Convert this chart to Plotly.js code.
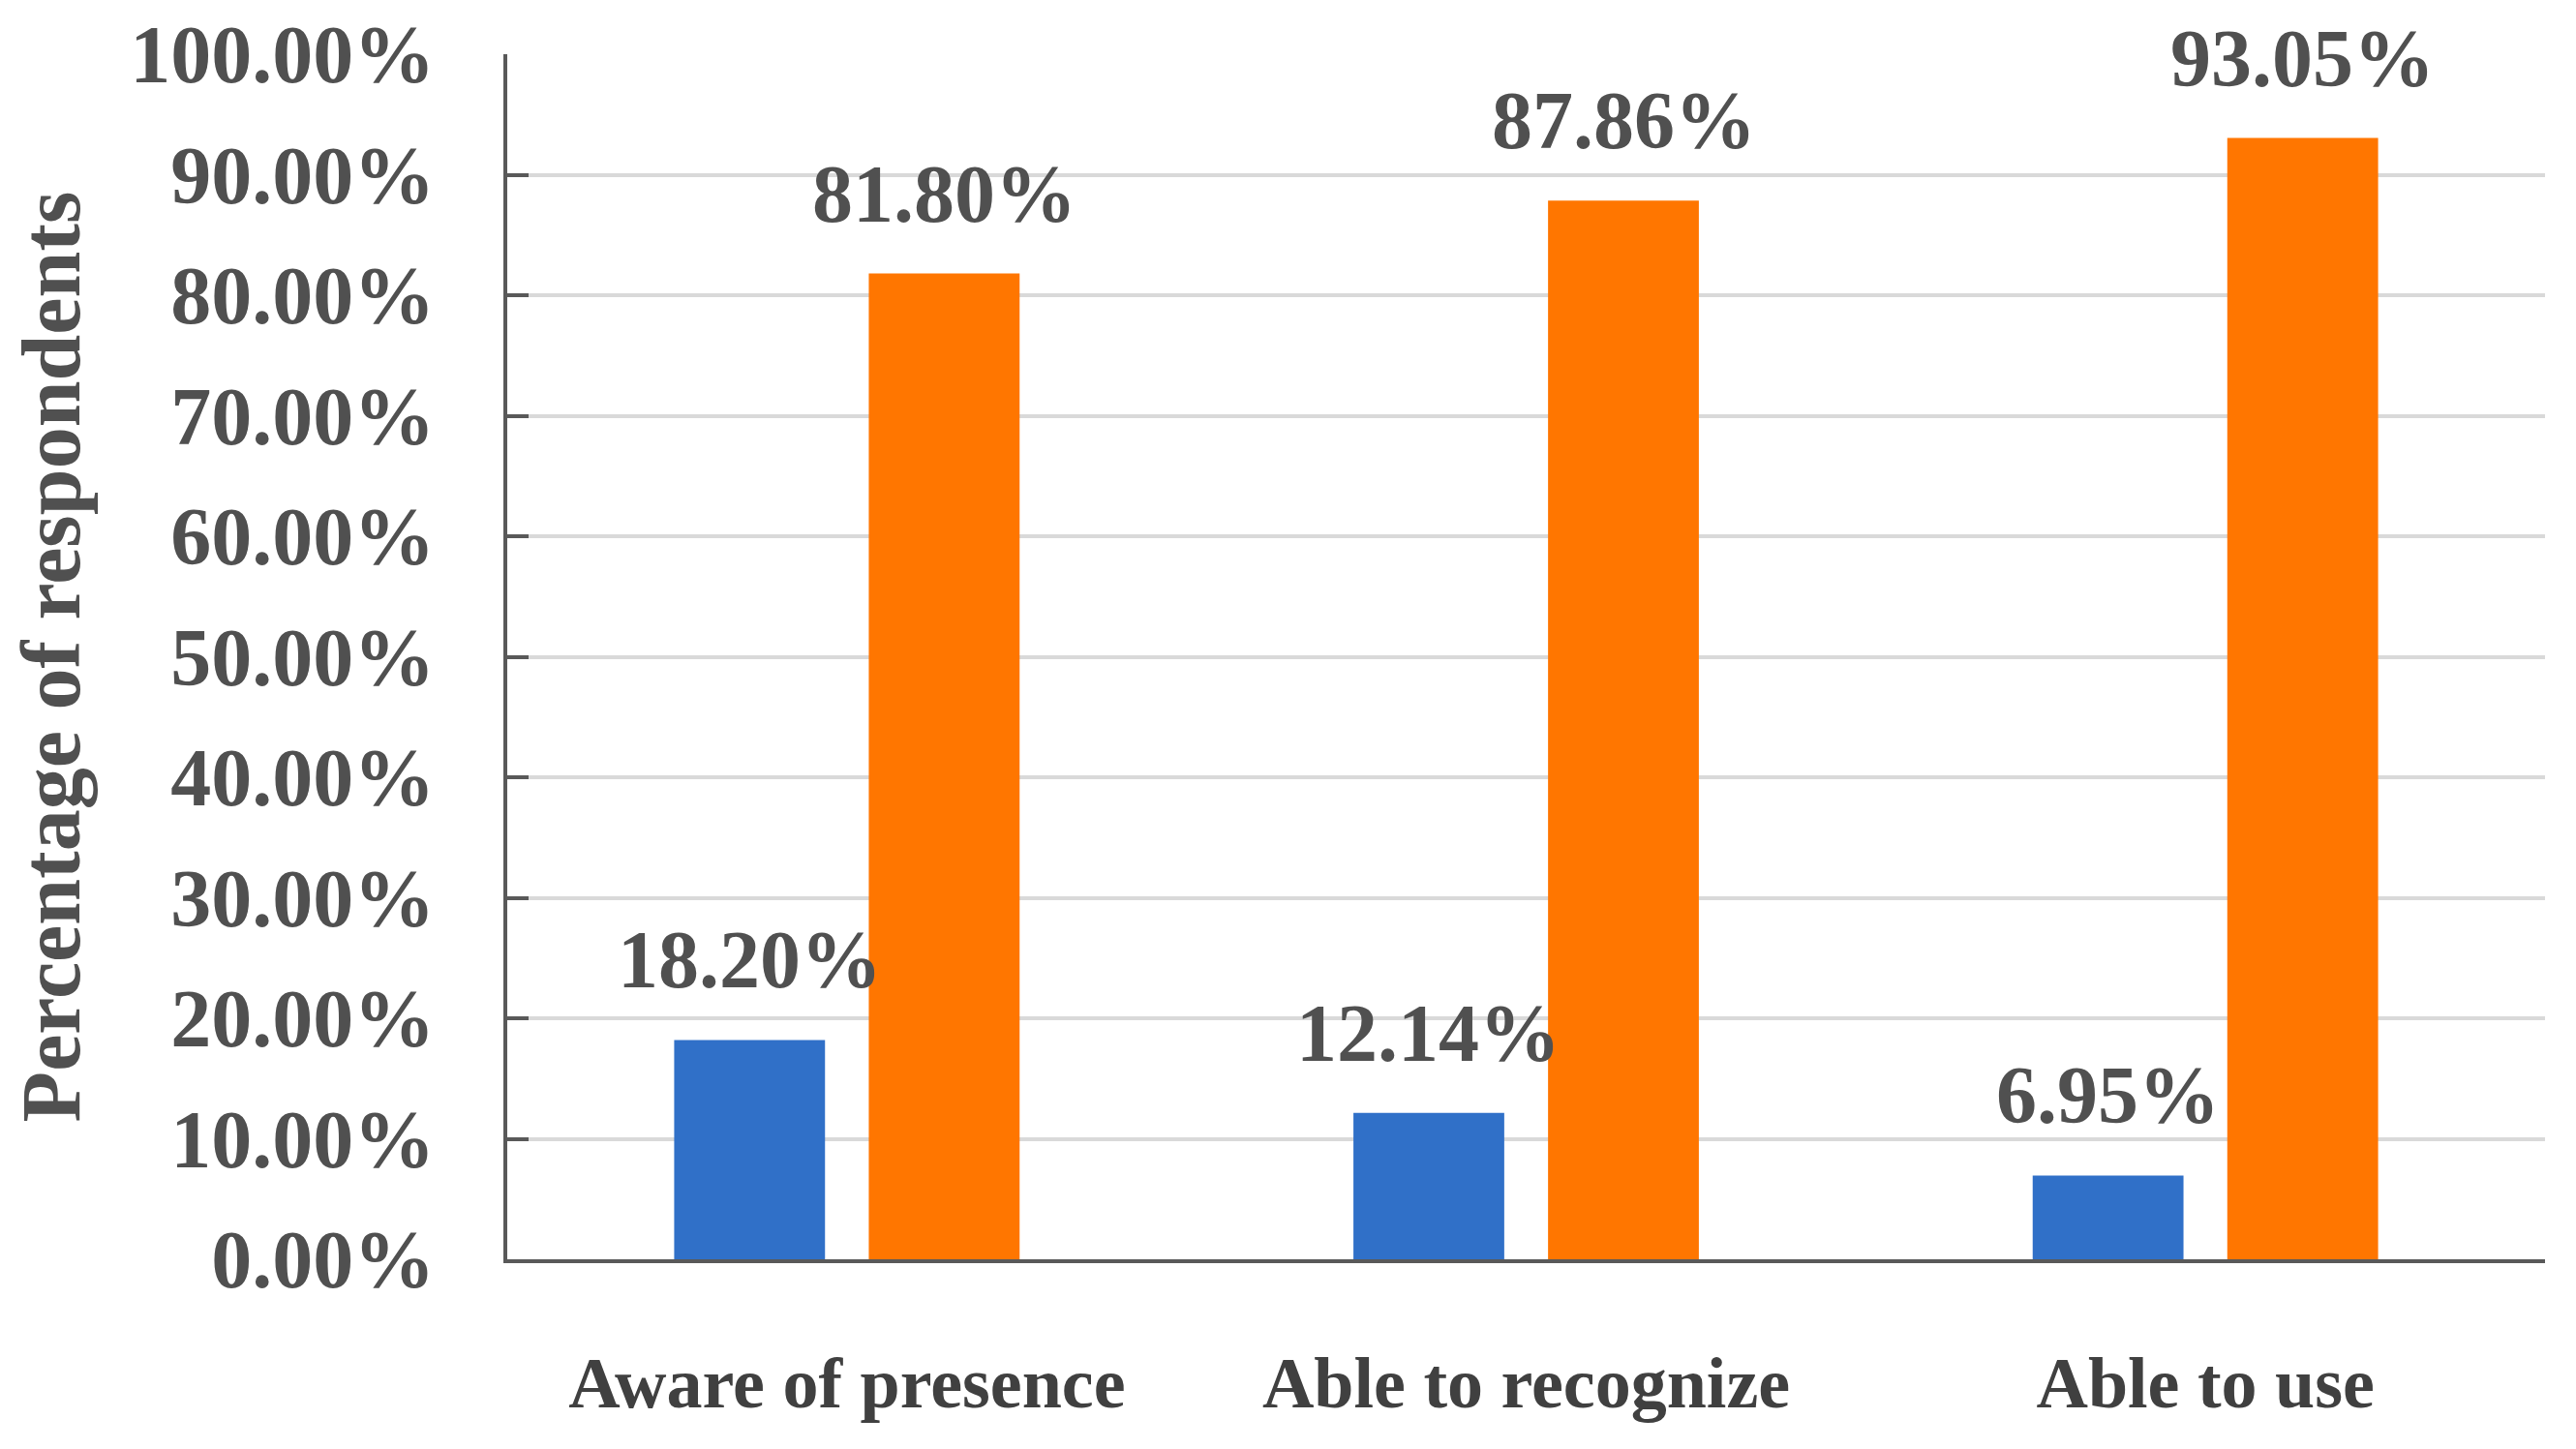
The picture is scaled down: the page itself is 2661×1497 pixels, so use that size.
<!DOCTYPE html>
<html>
<head>
<meta charset="utf-8">
<script src="https://cdn.plot.ly/plotly-3.0.1.min.js"></script>
<style>html,body{margin:0;padding:0;background:#fff;}#chart{width:2661px;height:1497px;}</style>
</head>
<body>
<div id="chart"></div>
<script>
const categories = ["Aware of presence", "Able to recognize", "Able to use"];
const seriesA = [0.1820, 0.1214, 0.0695];
const seriesB = [0.8180, 0.8786, 0.9305];
const yTicks = [0, 0.1, 0.2, 0.3, 0.4, 0.5, 0.6, 0.7, 0.8, 0.9, 1.0];

const labelFont = {family: "Liberation Serif", size: 84, color: "#505050", weight: "bold"};
const groupOffset = 0.1433;

const traces = [
  {type: "bar", name: "A", x: categories, y: seriesA, marker: {color: "#3070C8"}, hoverinfo: "none"},
  {type: "bar", name: "B", x: categories, y: seriesB, marker: {color: "#FF7600"}, hoverinfo: "none"}
];

const annotations = [];
categories.forEach((c, i) => {
  annotations.push({x: i - groupOffset, y: seriesA[i], xref: "x", yref: "y", text: (seriesA[i]*100).toFixed(2) + "%",
    showarrow: false, yanchor: "bottom", yshift: 34, font: labelFont});
  annotations.push({x: i + groupOffset, y: seriesB[i], xref: "x", yref: "y", text: (seriesB[i]*100).toFixed(2) + "%",
    showarrow: false, yanchor: "bottom", yshift: 34, font: labelFont});
});

const layout = {
  width: 2661, height: 1497,
  margin: {l: 524, r: 32, t: 56, b: 196},
  paper_bgcolor: "#ffffff", plot_bgcolor: "#ffffff",
  showlegend: false,
  barmode: "group", bargap: 0.427, bargroupgap: 0.225,
  xaxis: {
    type: "category",
    showline: true, linecolor: "#595959", linewidth: 4,
    ticks: "", showgrid: false,
    tickfont: {family: "Liberation Serif", size: 74, color: "#404040", weight: "bold"},
    ticklabelstandoff: 60
  },
  yaxis: {
    range: [0, 1], tickvals: yTicks, tickformat: ".2%",
    showline: true, linecolor: "#595959", linewidth: 4,
    ticks: "inside", ticklen: 22, tickwidth: 4, tickcolor: "#595959",
    showgrid: true, gridcolor: "#d9d9d9", gridwidth: 4,
    zeroline: false,
    tickfont: labelFont,
    ticklabelstandoff: 54,
    title: {text: "Percentage of respondents", font: {family: "Liberation Serif", size: 86, color: "#505050", weight: "bold"}, standoff: 24}
  },
  annotations: annotations
};

Plotly.newPlot("chart", traces, layout, {staticPlot: true});
</script>
</body>
</html>
